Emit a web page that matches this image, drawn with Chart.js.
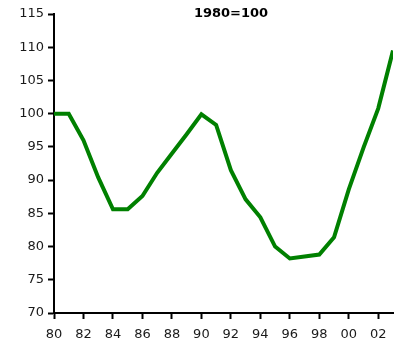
<!DOCTYPE html>
<html>
<head>
<meta charset="utf-8">
<script src="https://cdn.jsdelivr.net/npm/chart.js@4/dist/chart.umd.min.js"></script>
<style>
  html, body { margin: 0; padding: 0; background: #fff; }
  #wrap { width: 401px; height: 344px; position: relative; }
</style>
</head>
<body>
<div id="wrap"><canvas id="c" width="401" height="344"></canvas></div>
<script>
const years = [1980,1981,1982,1983,1984,1985,1986,1987,1988,1989,1990,1991,1992,1993,1994,1995,1996,1997,1998,1999,2000,2001,2002,2003];
const indexValues = [100,100,96,90.4,85.6,85.6,87.6,91.1,94,96.9,99.9,98.3,91.5,87.1,84.4,80,78.2,78.5,78.8,81.4,88.6,94.9,100.8,109.5];
const yTicks = [70,75,80,85,90,95,100,105,110,115];
const titleText = '1980=100';

const FONT = 'DejaVu Sans, Verdana, sans-serif';

const titlePlugin = {
  id: 'innerTitle',
  afterDraw(chart) {
    const ctx = chart.ctx;
    ctx.save();
    ctx.font = 'bold 13px ' + FONT;
    ctx.fillStyle = '#000';
    ctx.textAlign = 'center';
    ctx.textBaseline = 'middle';
    ctx.fillText(titleText, 231, 14);
    ctx.restore();
  }
};

new Chart(document.getElementById('c'), {
  type: 'line',
  data: {
    datasets: [{
      data: years.map((y, i) => ({ x: y, y: indexValues[i] })),
      borderColor: '#008000',
      borderWidth: 4,
      pointRadius: 0,
      tension: 0,
      fill: false,
      borderJoinStyle: 'miter'
    }]
  },
  options: {
    responsive: false,
    animation: false,
    devicePixelRatio: 1,
    layout: { padding: { top: 14, right: 8, left: 0, bottom: 0 } },
    plugins: { legend: { display: false }, tooltip: { enabled: false }, title: { display: false } },
    scales: {
      x: {
        type: 'linear',
        min: 1980,
        max: 2003,
        afterFit(s) { s.height = 31; },
        afterBuildTicks(s) { s.ticks = years.filter(y => y % 2 === 0).map(v => ({ value: v })); },
        ticks: {
          color: '#1a1a1a',
          font: { family: FONT, size: 13 },
          padding: 8,
          maxRotation: 0,
          autoSkip: false,
          callback: v => String(v % 100).padStart(2, '0')
        },
        grid: { display: true, drawOnChartArea: false, tickLength: 6, color: '#000', tickWidth: 2 },
        border: { display: true, color: '#000', width: 2 }
      },
      y: {
        min: 70,
        max: 115,
        afterFit(s) { s.width = 54; },
        afterBuildTicks(s) { s.ticks = yTicks.map(v => ({ value: v })); },
        ticks: {
          color: '#1a1a1a',
          font: { family: FONT, size: 13 },
          padding: 4,
          autoSkip: false
        },
        grid: { display: true, drawOnChartArea: false, tickLength: 6, color: '#000', tickWidth: 2 },
        border: { display: true, color: '#000', width: 2 }
      }
    }
  },
  plugins: [titlePlugin]
});
</script>
</body>
</html>
